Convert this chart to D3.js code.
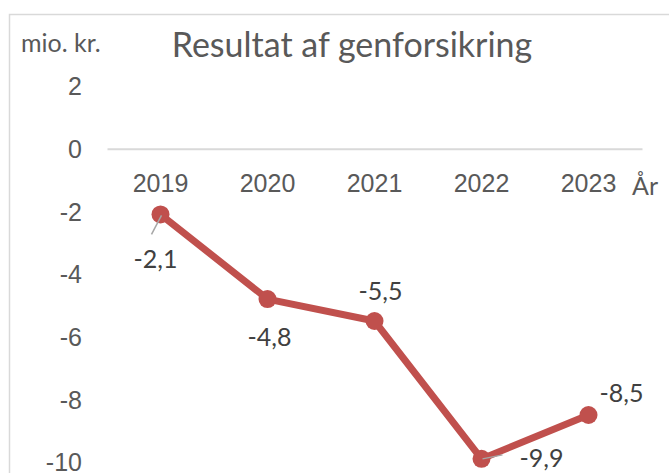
<!DOCTYPE html>
<html>
<head>
    <meta charset="utf-8">
    <style>
        body {
            margin: 0;
            background: white;
            overflow: hidden;
        }
        svg {
            font-family: Lato, "Open Sans", sans-serif;
        }
    </style>
</head>
<body>
    <svg width="669" height="473"></svg>

<script src="https://d3js.org/d3.v7.min.js"></script>
<script>
    // data
    let years = ["2019", "2020", "2021", "2022", "2023"]
    let values = [-2.1, -4.8, -5.5, -9.9, -8.5]
    let yTicks = [2, 0, -2, -4, -6, -8, -10]

    // where each value label sits relative to its point (dx, dy) and whether it has a leader line
    let labelOffsets = [
        { dx: -5, dy: 44, leader: [[1, 1], [-9, 20]] },
        { dx: 2, dy: 37 },
        { dx: 6, dy: -31 },
        { dx: 60, dy: -2, leader: [[1, 0], [21, -4]] },
        { dx: 33, dy: -23 }
    ]

    let svg = d3.select("svg")
    let textColor = "#595959"
    let fs = "25px"

    // outer chart border (right and bottom fall outside the picture)
    svg.append("rect")
        .attr("x", 9.5)
        .attr("y", 14.5)
        .attr("width", 700)
        .attr("height", 500)
        .style("fill", "white")
        .style("stroke", "#d9d9d9")
        .style("stroke-width", 1.5)

    let x = d3.scaleBand()
        .domain(years)
        .range([107, 642])

    let y = d3.scaleLinear()
        .domain([-10, 2])
        .range([462, 86])

    // y axis labels only
    let yAxis = svg.append("g")
        .attr("transform", "translate(82,0)")
        .call(d3.axisLeft(y).tickValues(yTicks).tickSize(0).tickPadding(0)
            .tickFormat(d => String(d)))
    yAxis.select(".domain").remove()
    yAxis.selectAll("text")
        .style("font-size", fs)
        .style("fill", textColor)
        .attr("dy", "0.35em")

    // horizontal axis at zero
    let xAxis = svg.append("g")
        .attr("transform", "translate(0," + y(0) + ")")
        .call(d3.axisBottom(x).tickSize(0).tickPadding(26))
    xAxis.select(".domain")
        .style("stroke", "#d9d9d9")
        .style("stroke-width", 2)
    xAxis.selectAll("text")
        .style("font-size", fs)
        .style("fill", textColor)
        .attr("dy", "0.71em")

    svg.append("text")
        .attr("x", 632)
        .attr("y", 185)
        .attr("dominant-baseline", "central")
        .style("font-size", fs)
        .style("fill", textColor)
        .text("År")

    // title and unit
    svg.append("text")
        .attr("x", 352)
        .attr("y", 43)
        .attr("text-anchor", "middle")
        .attr("dominant-baseline", "central")
        .style("font-size", "34px")
        .style("fill", textColor)
        .text("Resultat af genforsikring")

    svg.append("text")
        .attr("x", 21)
        .attr("y", 42)
        .attr("dominant-baseline", "central")
        .style("font-size", "25px")
        .style("fill", textColor)
        .text("mio. kr.")

    let pts = years.map((yr, i) => ({ year: yr, value: values[i], off: labelOffsets[i] }))

    let line = d3.line()
        .x(d => x(d.year) + x.bandwidth() / 2)
        .y(d => y(d.value))

    svg.append("path")
        .datum(pts)
        .attr("d", line)
        .style("fill", "none")
        .style("stroke", "#c0504d")
        .style("stroke-width", 7)
        .style("stroke-linejoin", "round")

    svg.selectAll(".marker")
        .data(pts)
        .join("circle")
        .attr("class", "marker")
        .attr("cx", d => x(d.year) + x.bandwidth() / 2)
        .attr("cy", d => y(d.value))
        .attr("r", 9)
        .style("fill", "#c0504d")

    // leader lines
    svg.selectAll(".leader")
        .data(pts.filter(d => d.off.leader))
        .join("line")
        .attr("class", "leader")
        .attr("x1", d => x(d.year) + x.bandwidth() / 2 + d.off.leader[0][0])
        .attr("y1", d => y(d.value) + d.off.leader[0][1])
        .attr("x2", d => x(d.year) + x.bandwidth() / 2 + d.off.leader[1][0])
        .attr("y2", d => y(d.value) + d.off.leader[1][1])
        .style("stroke", "#a6a6a6")
        .style("stroke-width", 1.5)

    svg.selectAll(".val")
        .data(pts)
        .join("text")
        .attr("class", "val")
        .attr("x", d => x(d.year) + x.bandwidth() / 2 + d.off.dx)
        .attr("y", d => y(d.value) + d.off.dy)
        .attr("text-anchor", "middle")
        .attr("dominant-baseline", "central")
        .style("font-size", fs)
        .style("fill", "#404040")
        .text(d => String(d.value).replace(".", ","))
</script>
</body>
</html>
